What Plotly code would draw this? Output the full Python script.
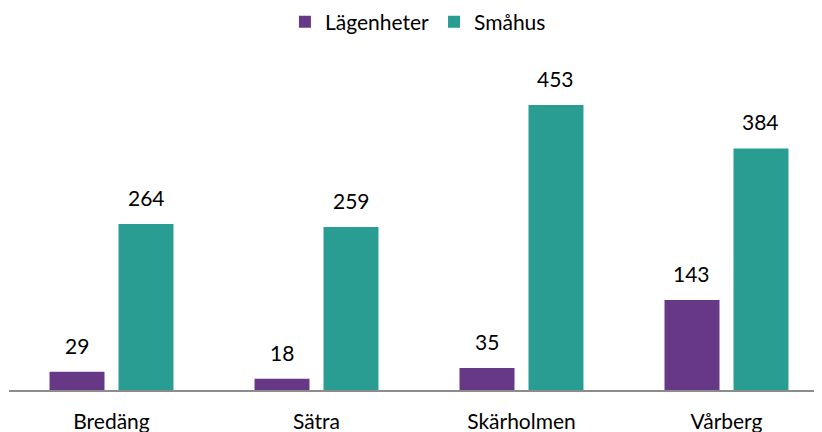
import plotly.graph_objects as go

categories = ["Bredäng", "Sätra", "Skärholmen", "Vårberg"]
lagenheter = [29, 18, 35, 143]
smahus = [264, 259, 453, 384]
series_names = ["Lägenheter", "Småhus"]

PURPLE = "#673886"
TEAL = "#2A9D93"
FONT = "Lato"

fig = go.Figure()
fig.add_trace(go.Bar(name=series_names[0], x=categories, y=lagenheter,
                     marker=dict(color=PURPLE, line=dict(width=0))))
fig.add_trace(go.Bar(name=series_names[1], x=categories, y=smahus,
                     marker=dict(color=TEAL, line=dict(width=0))))

# value labels above bars (data coordinates, shifted to each bar slot)
for vals, shift in ((lagenheter, -34.5), (smahus, 34.5)):
    for c, v in zip(categories, vals):
        fig.add_annotation(x=c, y=v, text=str(v), showarrow=False,
                           xanchor="center", yanchor="bottom",
                           xshift=shift, yshift=12,
                           font=dict(family=FONT, size=21, color="#000000"))

# the page body has an 8px margin, so the figure is sized to fill the rest of the window
fig.update_layout(
    width=814, height=424,
    margin=dict(l=1, r=0, t=42, b=42),
    paper_bgcolor="white", plot_bgcolor="white",
    barmode="group", bargap=0.327, bargroupgap=0.203,
    font=dict(family=FONT, size=21, color="#000000"),
    showlegend=True,
    legend=dict(orientation="h", x=0.503, xanchor="center",
                yref="container", y=0.967, yanchor="middle",
                font=dict(family=FONT, size=21, color="#000000"),
                bgcolor="rgba(0,0,0,0)"),
    xaxis=dict(range=[-0.5, 3.4659], showgrid=False, zeroline=False,
               showline=True, linecolor="#8C8C8C", linewidth=1.5,
               ticks="", ticklabelstandoff=12,
               tickfont=dict(family=FONT, size=21, color="#000000")),
    yaxis=dict(range=[0, 540.5], visible=False, showgrid=False, zeroline=False),
)

fig.write_html("out.html")
